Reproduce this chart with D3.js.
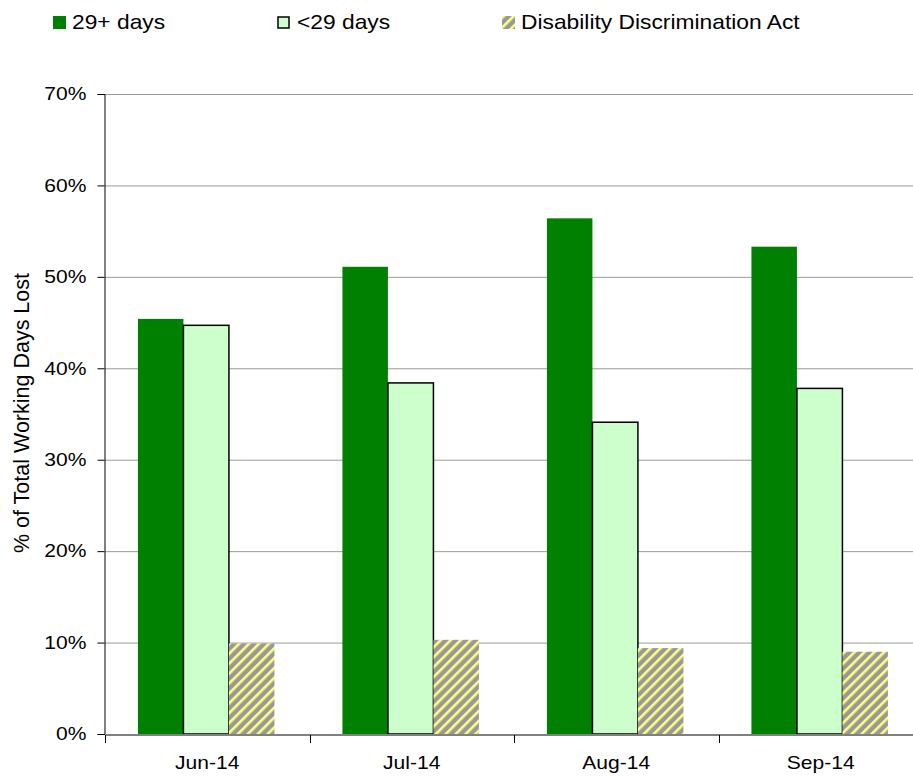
<!DOCTYPE html>
<html>
<head>
<meta charset="utf-8">
<script src="https://cdn.jsdelivr.net/npm/d3@7"></script>
<style>
  body { margin: 0; background: #fff; }
  text { font-family: "Liberation Sans", Arial, sans-serif; }
</style>
</head>
<body>
<div id="container"></div>
<script>
// Chart data
const months = ["Jun-14", "Jul-14", "Aug-14", "Sep-14"];
const seriesNames = ["29+ days", "<29 days", "Disability Discrimination Act"];
const longTerm = [45.4, 51.1, 56.4, 53.3];
const shortTerm = [44.7, 38.4, 34.1, 37.8];
const dda = [9.9, 10.3, 9.4, 9.0];
const yTicks = [0, 10, 20, 30, 40, 50, 60, 70];

// the reference text is a bit wider than Arial
const stretch = 1.17;

const svg = d3
  .select("#container")
  .append("svg")
  .attr("width", 913)
  .attr("height", 781);

// pattern for the DDA bars
const defs = svg.append("defs");
const pat = defs
  .append("pattern")
  .attr("id", "hatch")
  .attr("patternUnits", "userSpaceOnUse")
  .attr("width", 7)
  .attr("height", 7)
  .attr("patternTransform", "rotate(45)");
pat.append("rect").attr("width", 7).attr("height", 7).attr("fill", "#999999");
pat.append("rect").attr("x", 0).attr("width", 2.6).attr("height", 7).attr("fill", "#ffff80");

// Scales
const x = d3.scaleBand().domain(months).range([105, 923]);
const y = d3.scaleLinear().domain([0, 70]).range([734, 94]);

// Gridlines
svg
  .append("g")
  .selectAll("line")
  .data(yTicks.filter((d) => d > 0))
  .enter()
  .append("line")
  .attr("x1", 105)
  .attr("x2", 913)
  .attr("y1", (d) => y(d) + 0.5)
  .attr("y2", (d) => y(d) + 0.5)
  .attr("stroke", "#9a9a9a")
  .attr("stroke-width", 1);

// Bars
const series = [
  { name: seriesNames[0], values: longTerm, fill: "#008000", stroke: "none" },
  { name: seriesNames[1], values: shortTerm, fill: "#ccffcc", stroke: "#000" },
  { name: seriesNames[2], values: dda, fill: "url(#hatch)", stroke: "none" },
];

const bw = x.bandwidth() * 0.2225;
const off = x.bandwidth() * 0.161;

series.forEach((s, i) => {
  svg
    .append("g")
    .selectAll("rect")
    .data(months)
    .enter()
    .append("rect")
    .attr("x", (d) => x(d) + off + i * bw)
    .attr("y", (d, j) => y(s.values[j]))
    .attr("width", bw)
    .attr("height", (d, j) => y(0) - y(s.values[j]))
    .attr("fill", s.fill)
    .attr("stroke", s.stroke)
    .attr("stroke-width", s.stroke === "none" ? 0 : 1.5);
});

// Y axis
const yAxis = svg
  .append("g")
  .attr("transform", "translate(104.5,0)")
  .call(
    d3
      .axisLeft(y)
      .tickValues(yTicks)
      .tickSize(7)
      .tickFormat((d) => d + "%")
  );
yAxis.select(".domain").attr("stroke", "#000");
yAxis.selectAll(".tick line").attr("stroke", "#000");
yAxis
  .selectAll(".tick text")
  .attr("font-size", 18)
  .attr("font-family", "Liberation Sans, Arial, sans-serif")
  .attr("fill", "#000")
  .attr("x", 0)
  .attr("transform", `translate(-18,0) scale(${stretch},1)`);

// X axis
const xAxis = svg
  .append("g")
  .attr("transform", "translate(0,734.5)")
  .call(d3.axisBottom(x).tickSize(0));
xAxis.select(".domain").attr("stroke", "#808080").attr("stroke-width", 2);
xAxis
  .selectAll(".tick text")
  .attr("font-size", 18)
  .attr("font-family", "Liberation Sans, Arial, sans-serif")
  .attr("fill", "#000")
  .attr("y", 22)
  .attr("transform", `scale(${stretch},1)`);

// Category separators
svg
  .append("g")
  .selectAll("line")
  .data(months)
  .enter()
  .append("line")
  .attr("x1", (d) => Math.round(x(d)) + 0.5)
  .attr("x2", (d) => Math.round(x(d)) + 0.5)
  .attr("y1", 735)
  .attr("y2", 743)
  .attr("stroke", "#000");

// Y axis title
svg
  .append("text")
  .attr("transform", "translate(29,413) rotate(-90)")
  .attr("text-anchor", "middle")
  .attr("font-size", 21.5)
  .text("% of Total Working Days Lost");

// Legend
const legendX = [53, 277, 502];
const legend = svg
  .append("g")
  .selectAll("g")
  .data(series)
  .enter()
  .append("g")
  .attr("transform", (d, i) => `translate(${legendX[i]},16)`);
legend
  .append("rect")
  .attr("width", (d, i) => (i === 1 ? 11 : 13))
  .attr("height", (d, i) => (i === 1 ? 11 : 13))
  .attr("y", (d, i) => (i === 1 ? 1 : 0))
  .attr("x", (d, i) => (i === 1 ? 1 : 0))
  .attr("fill", (d) => d.fill)
  .attr("stroke", (d) => d.stroke)
  .attr("stroke-width", (d) => (d.stroke === "none" ? 0 : 1.5));
legend
  .append("text")
  .attr("transform", (d, i) => `translate(${i === 1 ? 20 : 19},13) scale(1.14,1)`)
  .attr("font-size", 20)
  .text((d) => d.name);
</script>
</body>
</html>
